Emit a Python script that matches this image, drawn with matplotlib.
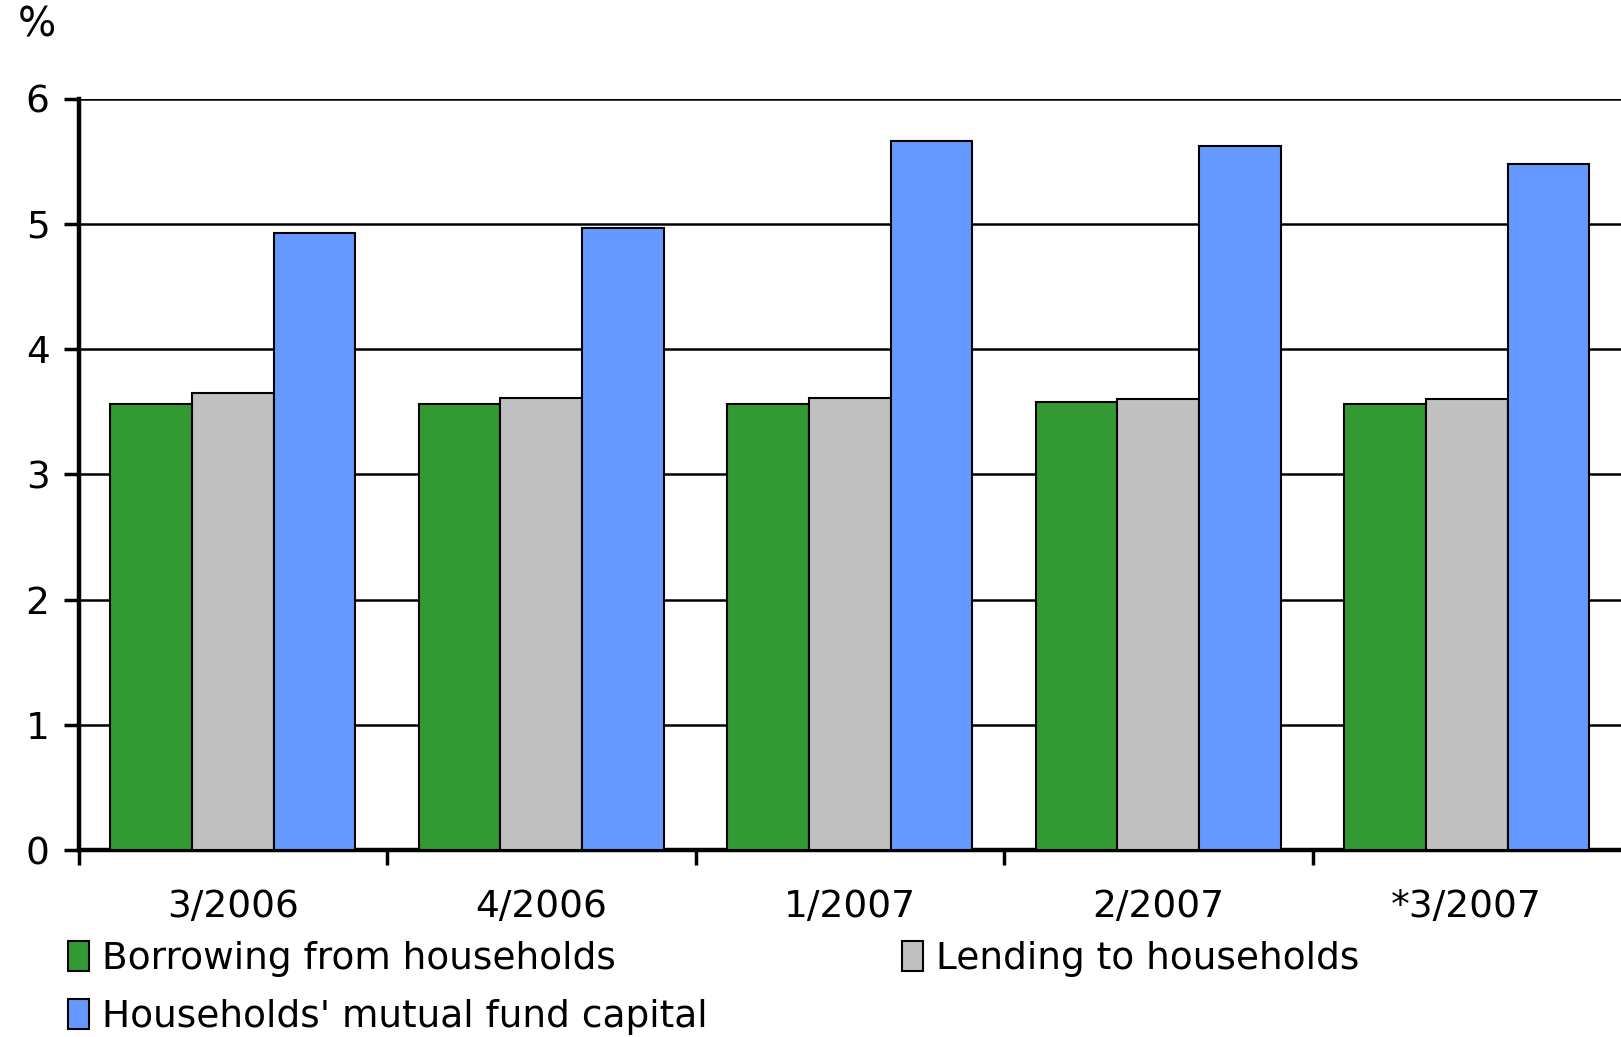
import numpy as np
import matplotlib
matplotlib.use("Agg")
import matplotlib.pyplot as plt
from matplotlib.patches import Patch

# Datos
categories = ["3/2006", "4/2006", "1/2007", "2/2007", "*3/2007"]
borrowing = [3.56, 3.56, 3.56, 3.58, 3.56]
lending = [3.65, 3.61, 3.61, 3.60, 3.60]
mutual_fund = [4.93, 4.97, 5.66, 5.62, 5.48]
series_names = ["Borrowing from households", "Lending to households",
                "Households' mutual fund capital"]
colors = ["#339933", "#C0C0C0", "#6699FF"]

plt.rcParams['font.family'] = ['DejaVu Sans']
fs = 27

fig = plt.figure(figsize=(16.21, 10.37), dpi=100)
ax = fig.add_axes([0.0485, 0.18, 0.9515, 0.725])

x = np.arange(len(categories))
w = 0.265
for i, vals in enumerate([borrowing, lending, mutual_fund]):
    ax.bar(x + (i - 1) * w, vals, w, color=colors[i], edgecolor="black",
           linewidth=1.5, zorder=3)

# Ejes
ax.set_xlim(-0.5, len(categories) - 0.5)
ax.set_ylim(0, 6)
ax.set_yticks(range(7))
ax.yaxis.grid(True, color="black", linewidth=1.8, zorder=0)
ax.set_axisbelow(True)
for s in ["top", "right"]:
    ax.spines[s].set_visible(False)
for s in ["left", "bottom"]:
    ax.spines[s].set_linewidth(3.2)

ax.set_xticks(np.arange(-0.5, len(categories) - 0.5, 1))
ax.set_xticklabels([])
ax.set_xticks(x, minor=True)
ax.set_xticklabels(categories, minor=True)
ax.tick_params(axis="x", which="major", length=11, width=2.5, direction="out")
ax.tick_params(axis="x", which="minor", length=0, pad=28, labelsize=fs)
ax.tick_params(axis="y", length=11, width=2.5, labelsize=fs, pad=10)

fig.text(0.011, 0.995, "%", fontsize=29, va="top", ha="left")

# Leyenda: orden para que quede por filas
handles = [Patch(facecolor=c, edgecolor="black", linewidth=1.5) for c in colors]
order = [0, 2, 1]
fig.legend([handles[i] for i in order], [series_names[i] for i in order],
           loc="upper left", bbox_to_anchor=(0.042, 0.093),
           ncol=2, frameon=False, fontsize=fs, handlelength=0.55, handleheight=0.85,
           handletextpad=0.35, columnspacing=5.2, labelspacing=0.6,
           borderaxespad=0, borderpad=0)

fig.savefig("out.png", dpi=100)
